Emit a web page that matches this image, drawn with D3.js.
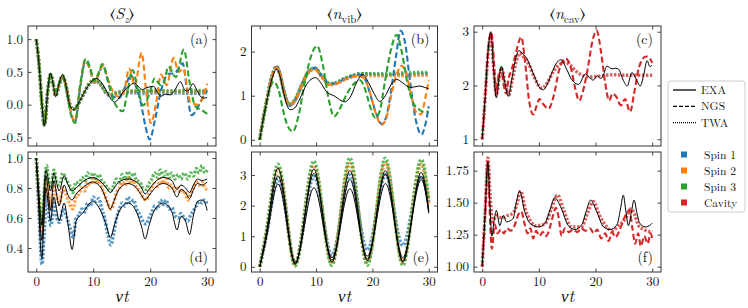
<!DOCTYPE html>
<html lang="en">
<head>
<meta charset="UTF-8">
<title>spin-cavity dynamics</title>
<script src="https://cdn.jsdelivr.net/npm/d3@7"></script>
<style>
    body { margin: 0; background: #fff; }
</style>
</head>
<body>
<svg id="fig" width="748" height="308"></svg>
<script>
// ---- data: [t, value] pairs ----
// (a) <S_z>, first setup
var szExa = [[0,1.0],[0.5,0.6],[1.0,0.0],[1.45,-0.32],[2.0,0.2],[2.5,0.48],[3.0,0.3],[3.4,0.12],[4.0,0.32],[4.6,0.46],[5.2,0.3],[5.8,0.02],[6.5,-0.08],[7.3,0.0],[8.2,0.15],[9.2,0.3],[10.6,0.40],[11.5,0.33],[12.4,0.2],[13.0,0.1],[13.8,0.04],[14.5,0.1],[15.3,0.2],[16.3,0.28],[17.2,0.33],[18.0,0.27],[18.6,0.23],[19.4,0.26],[20.6,0.28],[21.3,0.18],[21.9,0.13],[22.7,0.16],[23.5,0.15],[24.3,0.22],[25.3,0.35],[26.1,0.22],[26.6,0.21],[27.5,0.32],[28.2,0.22],[28.9,0.12],[29.5,0.1],[30,0.11]];
var szNgs1 = [[0,1.0],[0.5,0.6],[1.0,0.0],[1.45,-0.31],[2.0,0.2],[2.5,0.46],[3.0,0.3],[3.4,0.15],[4.0,0.3],[4.6,0.42],[5.3,0.25],[6.0,-0.1],[6.8,-0.26],[7.7,0.25],[8.6,0.66],[9.4,0.55],[10.2,0.33],[10.9,0.45],[11.7,0.6],[12.6,0.35],[13.5,0.12],[14.5,0.1],[15.5,0.25],[16.6,0.45],[17.4,0.3],[18.3,0.05],[19.1,-0.3],[19.9,-0.53],[20.8,-0.25],[21.7,0.14],[22.5,0.38],[23.2,0.47],[24.3,0.48],[25.7,0.63],[26.5,0.2],[27.2,-0.16],[28.0,-0.1],[28.8,0.04],[30,0.22]];
var szNgs2 = [[0,1.0],[0.5,0.6],[1.0,0.0],[1.45,-0.31],[2.0,0.2],[2.5,0.46],[3.0,0.3],[3.4,0.16],[4.0,0.3],[4.6,0.42],[5.3,0.25],[6.0,-0.08],[6.8,-0.25],[7.7,0.28],[8.6,0.68],[9.4,0.55],[10.2,0.34],[10.9,0.46],[11.7,0.6],[12.6,0.38],[13.5,0.2],[14.5,0.12],[15.4,0.2],[16.3,0.55],[17.3,0.3],[18.5,0.79],[19.3,0.2],[20.1,-0.28],[21.0,0.0],[21.9,0.46],[22.9,0.3],[24.1,0.71],[25.0,0.5],[25.8,0.55],[27.0,0.05],[28.3,0.0],[29.3,0.12],[30,0.32]];
var szNgs3 = [[0,1.0],[0.5,0.6],[1.0,0.0],[1.45,-0.31],[2.0,0.2],[2.5,0.46],[3.0,0.3],[3.4,0.2],[4.0,0.32],[4.6,0.42],[5.3,0.22],[6.0,-0.12],[6.8,-0.28],[7.7,0.3],[8.7,0.7],[9.4,0.58],[10.2,0.36],[10.9,0.48],[11.6,0.62],[12.5,0.4],[13.4,0.1],[14.3,-0.05],[15.2,-0.1],[16.0,0.2],[16.9,0.53],[17.9,0.2],[18.8,-0.01],[19.8,0.15],[20.8,0.4],[21.8,0.3],[22.3,0.32],[23.2,0.58],[24.5,0.42],[25.9,0.84],[26.9,0.35],[27.9,-0.02],[29.0,-0.08],[30,-0.14]];
var szTwa1 = [[0,1.0],[0.5,0.6],[1.0,0.0],[1.45,-0.31],[2.0,0.2],[2.5,0.46],[3.0,0.3],[3.4,0.14],[4.0,0.3],[4.6,0.44],[5.2,0.3],[5.8,0.03],[6.5,-0.07],[7.3,0.0],[8.2,0.14],[9.2,0.3],[10.3,0.37],[11.3,0.3],[12.3,0.17],[13.2,0.13],[14.2,0.16],[15.5,0.18],[17,0.18],[19,0.17],[21,0.18],[23,0.17],[25,0.18],[27,0.17],[30,0.18]];
var szTwa2 = [[0,1.0],[0.5,0.6],[1.0,0.0],[1.45,-0.31],[2.0,0.2],[2.5,0.46],[3.0,0.3],[3.4,0.14],[4.0,0.3],[4.6,0.44],[5.2,0.3],[5.8,0.03],[6.5,-0.07],[7.3,0.0],[8.2,0.15],[9.2,0.31],[10.3,0.38],[11.3,0.31],[12.3,0.18],[13.2,0.15],[14.2,0.18],[15.5,0.2],[17,0.2],[19,0.2],[21,0.2],[23,0.2],[25,0.2],[27,0.2],[30,0.2]];
var szTwa3 = [[0,1.0],[0.5,0.6],[1.0,0.0],[1.45,-0.31],[2.0,0.2],[2.5,0.46],[3.0,0.3],[3.4,0.14],[4.0,0.3],[4.6,0.44],[5.2,0.3],[5.8,0.03],[6.5,-0.07],[7.3,0.0],[8.2,0.15],[9.2,0.31],[10.3,0.38],[11.3,0.32],[12.3,0.19],[13.2,0.16],[14.2,0.19],[15.5,0.21],[17,0.21],[19,0.21],[21,0.22],[23,0.21],[25,0.21],[27,0.22],[30,0.21]];

// (b) <n_vib>, first setup
var nvExa = [[0,0],[0.6,0.45],[1.2,0.84],[2.0,1.3],[3.0,1.6],[3.6,1.45],[4.2,1.1],[4.8,0.8],[5.4,0.68],[6.2,0.72],[7.1,0.92],[8.3,1.25],[9.9,1.41],[10.8,1.3],[11.8,1.1],[13.3,0.99],[15.1,0.86],[16.2,1.0],[17.2,1.3],[18.3,1.48],[19.3,1.3],[20.3,1.05],[21.3,0.87],[22.3,1.0],[23.3,1.25],[24.3,1.37],[25.4,1.29],[26.6,1.19],[27.5,1.2],[28.4,1.22],[29.2,1.19],[30,1.16]];
var nvNgs1 = [[0,0],[0.6,0.45],[1.2,0.85],[2.0,1.35],[3.0,1.66],[3.6,1.5],[4.3,1.1],[5.3,0.78],[6.3,0.9],[7.5,1.25],[8.7,1.55],[9.8,1.63],[11.0,1.45],[12.4,1.27],[13.5,1.28],[15.0,1.38],[16.5,1.45],[17.8,1.48],[18.8,1.35],[19.8,0.95],[20.8,0.55],[21.6,0.36],[22.4,0.5],[23.3,1.1],[24.2,1.9],[25.0,2.47],[25.8,2.2],[26.7,1.3],[27.7,0.45],[28.7,0.12],[29.4,0.35],[30,0.76]];
var nvNgs2 = [[0,0],[0.6,0.45],[1.2,0.85],[2.0,1.35],[3.0,1.65],[3.6,1.5],[4.3,1.1],[5.3,0.79],[6.3,0.9],[7.5,1.25],[8.7,1.54],[9.8,1.6],[11.0,1.43],[12.4,1.25],[13.5,1.27],[15.0,1.36],[16.5,1.43],[17.5,1.45],[18.5,1.4],[19.5,1.1],[20.6,0.6],[21.6,0.34],[22.5,0.5],[23.5,1.1],[24.5,1.55],[25.2,1.68],[26.0,1.5],[26.9,1.0],[27.8,0.62],[28.6,0.58],[29.4,0.95],[30,1.35]];
var nvNgs3 = [[0,0],[0.6,0.4],[1.3,0.9],[2.5,1.32],[3.3,1.15],[4.2,0.65],[5.0,0.3],[5.9,0.19],[6.9,0.55],[8.0,1.3],[9.0,1.85],[10.2,2.13],[11.2,1.7],[12.2,0.95],[13.2,0.53],[14.2,0.7],[15.5,1.05],[16.8,1.28],[17.8,1.35],[18.7,1.15],[19.6,0.75],[20.5,0.5],[21.3,0.65],[22.2,1.3],[23.3,2.05],[24.3,2.38],[25.2,2.0],[26.2,1.3],[27.2,0.85],[28.2,0.7],[29.2,0.63],[30,0.65]];
var nvTwa1 = [[0,0],[0.6,0.45],[1.2,0.85],[2.0,1.35],[3.0,1.66],[3.6,1.5],[4.3,1.1],[5.3,0.78],[6.3,0.9],[7.5,1.25],[8.7,1.55],[9.8,1.63],[11.0,1.45],[12.4,1.27],[13.5,1.28],[15.0,1.38],[16.5,1.45],[18.0,1.5],[20,1.48],[22,1.47],[24,1.48],[26,1.48],[28,1.49],[30,1.5]];
var nvTwa2 = [[0,0],[0.6,0.45],[1.2,0.85],[2.0,1.35],[3.0,1.64],[3.6,1.48],[4.3,1.1],[5.3,0.79],[6.3,0.9],[7.5,1.24],[8.7,1.53],[9.8,1.6],[11.0,1.43],[12.4,1.25],[13.5,1.27],[15.0,1.36],[16.5,1.43],[18.0,1.46],[20,1.45],[22,1.45],[24,1.46],[26,1.45],[28,1.46],[30,1.46]];
var nvTwa3 = [[0,0],[0.6,0.45],[1.2,0.85],[2.0,1.35],[3.0,1.65],[3.6,1.49],[4.3,1.1],[5.3,0.8],[6.3,0.92],[7.5,1.26],[8.7,1.55],[9.8,1.62],[11.0,1.45],[12.4,1.28],[13.5,1.3],[15.0,1.39],[16.5,1.46],[18.0,1.5],[20,1.5],[22,1.5],[24,1.51],[26,1.52],[28,1.53],[30,1.52]];

// (c) <n_cav>, first setup
var ncExa = [[0,1.0],[0.5,1.75],[1.0,2.6],[1.5,3.0],[2.0,2.3],[2.5,1.77],[3.0,2.15],[3.4,2.36],[4.0,2.05],[4.6,1.8],[5.2,2.1],[5.8,2.45],[6.5,2.65],[7.2,2.58],[7.8,2.52],[8.5,2.35],[9.3,2.15],[10.0,1.98],[10.8,1.92],[11.5,2.03],[12.2,2.21],[13.0,2.4],[13.9,2.48],[14.9,2.3],[15.8,2.11],[17.0,2.02],[18.2,2.21],[19.0,2.14],[19.6,2.1],[20.3,2.18],[20.9,2.13],[21.4,2.2],[22.0,2.36],[22.9,2.31],[23.5,2.32],[24.1,2.3],[24.8,2.12],[25.6,1.99],[26.4,2.24],[27.1,2.13],[27.9,1.99],[28.5,2.2],[29.1,2.46],[29.6,2.35],[30,2.38]];
var ncNgs = [[0,1.0],[0.5,1.75],[1.0,2.6],[1.6,2.98],[2.1,2.4],[2.4,1.87],[2.9,2.2],[3.3,2.32],[3.8,2.0],[4.2,1.85],[4.7,2.15],[5.2,2.3],[5.7,2.5],[6.9,2.9],[7.5,2.5],[8.3,1.7],[9.0,1.46],[9.6,1.62],[10.1,1.75],[10.8,1.65],[11.7,1.57],[12.6,1.8],[13.6,2.3],[14.7,2.5],[15.6,2.35],[16.4,1.95],[17.1,1.72],[17.8,1.9],[18.6,2.3],[19.4,2.8],[20.2,3.02],[21.0,2.6],[21.7,2.05],[22.4,1.72],[23.0,1.85],[23.6,1.8],[24.5,1.63],[25.2,1.75],[26.1,1.51],[26.8,1.85],[27.7,2.35],[28.9,2.54],[29.6,2.5],[30,2.42]];
var ncTwa = [[0,1.0],[0.5,1.75],[1.0,2.55],[1.5,2.95],[2.0,2.35],[2.5,1.82],[3.0,2.15],[3.5,2.3],[4.0,2.05],[4.7,1.82],[5.3,2.1],[6.0,2.45],[6.6,2.6],[7.4,2.52],[8.2,2.4],[9.2,2.15],[10.5,1.95],[11.5,2.05],[12.5,2.25],[13.5,2.38],[14.6,2.43],[15.5,2.38],[16.5,2.27],[17.5,2.2],[19,2.16],[21,2.18],[23,2.2],[25,2.19],[27,2.19],[30,2.19]];

// (d) <S_z>, second setup
var szExaB1 = [[0,1.0],[0.4,0.7],[0.8,0.38],[1.0,0.33],[1.3,0.55],[1.7,0.8],[2.1,0.7],[2.5,0.58],[3.1,0.74],[3.6,0.65],[4.0,0.58],[4.9,0.7],[5.6,0.55],[6.3,0.39],[7.0,0.58],[8.1,0.63],[9.9,0.71],[11.4,0.64],[12.3,0.55],[13.0,0.47],[13.7,0.55],[14.5,0.64],[16.1,0.7],[17.6,0.64],[18.5,0.54],[19.1,0.46],[19.8,0.55],[20.6,0.64],[22.3,0.7],[23.8,0.64],[24.7,0.52],[25.4,0.61],[26.2,0.58],[26.9,0.49],[27.6,0.62],[28.3,0.71],[29.1,0.72],[29.6,0.7],[30,0.65]];
var szExaB2 = [[0,1.0],[0.4,0.75],[0.8,0.5],[1.0,0.45],[1.3,0.65],[1.7,0.88],[2.1,0.78],[2.5,0.65],[3.1,0.85],[3.6,0.75],[4.0,0.68],[4.9,0.82],[5.6,0.75],[6.3,0.72],[7.0,0.76],[8.1,0.8],[9.9,0.84],[11.4,0.8],[12.3,0.72],[13.0,0.66],[13.7,0.72],[14.5,0.79],[16.1,0.83],[17.6,0.8],[18.5,0.75],[19.1,0.72],[19.8,0.75],[20.6,0.79],[22.3,0.83],[23.8,0.8],[24.7,0.74],[25.4,0.79],[26.2,0.77],[26.9,0.73],[27.6,0.79],[28.3,0.83],[29.1,0.82],[30,0.84]];
var szExaB3 = [[0,1.0],[0.4,0.8],[0.8,0.6],[1.0,0.55],[1.3,0.75],[1.7,0.92],[2.1,0.86],[2.5,0.78],[3.1,0.9],[3.6,0.83],[4.0,0.78],[4.9,0.88],[5.6,0.82],[6.3,0.78],[7.0,0.8],[8.1,0.84],[9.9,0.87],[11.4,0.84],[12.3,0.8],[13.0,0.77],[13.7,0.8],[14.5,0.84],[16.1,0.86],[17.6,0.84],[18.5,0.8],[19.1,0.76],[19.8,0.79],[20.6,0.83],[22.3,0.87],[23.8,0.85],[24.7,0.79],[25.4,0.82],[26.2,0.8],[26.9,0.77],[27.6,0.82],[28.3,0.86],[29.1,0.85],[30,0.86]];
var szTwaB1 = [[0,1.0],[0.5,0.6],[1.0,0.29],[1.4,0.5],[1.8,0.75],[2.2,0.62],[2.6,0.55],[3.1,0.7],[3.6,0.6],[4.1,0.57],[4.7,0.66],[5.2,0.62],[5.8,0.55],[6.5,0.47],[7.0,0.6],[7.5,0.62],[8.0,0.66],[8.5,0.64],[9.0,0.7],[9.5,0.68],[10.0,0.74],[10.5,0.71],[11.0,0.73],[11.5,0.66],[12.0,0.6],[12.5,0.5],[13.1,0.42],[13.6,0.5],[14.1,0.6],[14.6,0.66],[15.1,0.7],[15.6,0.68],[16.1,0.74],[16.6,0.7],[17.1,0.72],[17.6,0.66],[18.2,0.62],[18.7,0.58],[19.3,0.56],[19.8,0.6],[20.3,0.64],[20.8,0.68],[21.3,0.66],[21.8,0.72],[22.3,0.69],[22.8,0.72],[23.3,0.66],[23.8,0.67],[24.3,0.62],[24.9,0.6],[25.4,0.63],[26.0,0.6],[26.6,0.58],[27.1,0.62],[27.6,0.65],[28.1,0.68],[28.6,0.71],[29.1,0.7],[29.6,0.72],[30,0.69]];
var szTwaB2 = [[0,1.0],[0.5,0.7],[1.0,0.5],[1.4,0.68],[1.8,0.85],[2.2,0.75],[2.6,0.68],[3.1,0.82],[3.6,0.74],[4.1,0.7],[4.7,0.8],[5.2,0.76],[5.8,0.7],[6.4,0.66],[7.0,0.74],[7.5,0.76],[8.0,0.8],[8.5,0.78],[9.0,0.84],[9.5,0.82],[10.0,0.86],[10.5,0.83],[11.0,0.85],[11.5,0.8],[12.0,0.76],[12.5,0.7],[13.1,0.66],[13.6,0.7],[14.1,0.77],[14.6,0.8],[15.1,0.84],[15.6,0.82],[16.1,0.87],[16.6,0.83],[17.1,0.85],[17.6,0.8],[18.2,0.78],[18.7,0.74],[19.3,0.72],[19.8,0.76],[20.3,0.8],[20.8,0.83],[21.3,0.81],[21.8,0.86],[22.3,0.83],[22.8,0.86],[23.3,0.8],[23.8,0.82],[24.3,0.78],[24.9,0.8],[25.4,0.77],[26.0,0.78],[26.6,0.72],[27.1,0.76],[27.6,0.8],[28.1,0.84],[28.6,0.82],[29.1,0.84],[29.6,0.8],[30,0.79]];
var szTwaB3 = [[0,1.0],[0.5,0.75],[1.0,0.55],[1.4,0.78],[1.8,0.95],[2.2,0.85],[2.6,0.8],[3.1,0.92],[3.6,0.84],[4.1,0.82],[4.7,0.9],[5.2,0.86],[5.8,0.82],[6.4,0.77],[7.0,0.84],[7.5,0.82],[8.0,0.87],[8.5,0.85],[9.0,0.9],[9.5,0.87],[10.0,0.9],[10.5,0.86],[11.0,0.89],[11.5,0.85],[12.0,0.83],[12.5,0.8],[13.1,0.78],[13.6,0.82],[14.1,0.86],[14.6,0.84],[15.1,0.89],[15.6,0.86],[16.1,0.91],[16.6,0.87],[17.1,0.9],[17.6,0.85],[18.2,0.84],[18.7,0.8],[19.3,0.79],[19.8,0.83],[20.3,0.86],[20.8,0.9],[21.3,0.87],[21.8,0.92],[22.3,0.88],[22.8,0.91],[23.3,0.87],[23.8,0.9],[24.3,0.86],[24.9,0.89],[25.4,0.86],[26.0,0.9],[26.6,0.86],[27.1,0.9],[27.6,0.88],[28.1,0.93],[28.6,0.9],[29.1,0.95],[29.6,0.9],[30,0.92]];

// (e) <n_vib>, second setup
var nvExaB1 = [[0,0],[1.6,1.35],[3.2,2.7],[4.8,1.45],[6.3,0.15],[7.95,1.35],[9.6,2.58],[11.2,1.45],[12.8,0.3],[14.4,1.4],[16,2.55],[17.55,1.45],[19.1,0.35],[20.7,1.5],[22.3,2.72],[23.85,1.55],[25.4,0.3],[27,1.55],[28.6,2.85],[30,1.75]];
var nvExaB2 = [[0,0],[1.6,1.48],[3.2,2.97],[4.8,1.55],[6.3,0.1],[7.95,1.55],[9.6,3.05],[11.2,1.65],[12.8,0.22],[14.4,1.5],[16,2.85],[17.55,1.55],[19.1,0.25],[20.7,1.62],[22.3,3.03],[23.85,1.62],[25.4,0.2],[27,1.6],[28.6,2.95],[30,1.8]];
var nvExaB3 = [[0,0],[1.6,1.6],[3.2,3.22],[4.8,1.65],[6.3,0.08],[7.95,1.62],[9.6,3.19],[11.2,1.68],[12.8,0.15],[14.4,1.62],[16,3.14],[17.55,1.67],[19.1,0.2],[20.7,1.65],[22.3,3.14],[23.85,1.66],[25.4,0.15],[27,1.6],[28.6,3.08],[30,1.85]];
var nvTwaB1 = [[0,0],[1.6,1.45],[3.2,2.87],[4.8,1.55],[6.3,0.15],[7.95,1.55],[9.6,2.95],[11.2,1.7],[12.8,0.38],[14.4,1.65],[16,3.0],[17.55,1.8],[19.1,0.55],[20.7,1.75],[22.3,3.0],[23.85,1.85],[25.4,0.7],[27,1.85],[28.6,2.95],[30,2.1]];
var nvTwaB2 = [[0,0],[1.6,1.6],[3.2,3.2],[4.8,1.65],[6.3,0.08],[7.95,1.7],[9.6,3.3],[11.2,1.72],[12.8,0.12],[14.4,1.75],[16,3.38],[17.55,1.78],[19.1,0.15],[20.7,1.78],[22.3,3.4],[23.85,1.78],[25.4,0.15],[27,1.75],[28.6,3.35],[30,2.0]];
var nvTwaB3 = [[0,0],[1.6,1.68],[3.2,3.35],[4.8,1.7],[6.3,0.03],[7.95,1.74],[9.6,3.45],[11.2,1.75],[12.8,0.05],[14.4,1.8],[16,3.55],[17.55,1.8],[19.1,0.05],[20.7,1.8],[22.3,3.55],[23.85,1.78],[25.4,0.05],[27,1.78],[28.6,3.5],[30,2.2]];

// (f) <n_cav>, second setup
var ncExaB = [[0,1.0],[0.5,1.4],[1.0,1.82],[1.35,1.5],[1.7,1.24],[2.1,1.36],[2.5,1.44],[3.1,1.32],[3.7,1.4],[4.3,1.35],[5.0,1.36],[5.5,1.38],[6.0,1.5],[6.6,1.59],[7.5,1.43],[8.4,1.34],[9.9,1.31],[11.1,1.34],[12.0,1.45],[12.8,1.54],[13.9,1.46],[15.2,1.32],[16.4,1.29],[17.6,1.33],[18.4,1.44],[19.1,1.52],[20.2,1.43],[21.4,1.31],[22.6,1.29],[23.8,1.33],[24.4,1.45],[24.9,1.56],[25.3,1.45],[25.8,1.32],[26.3,1.42],[26.8,1.52],[27.3,1.42],[27.8,1.34],[28.8,1.31],[29.5,1.32],[30,1.34]];
var ncNgsB = [[0,1.0],[0.5,1.4],[1.0,1.82],[1.3,1.45],[1.7,1.14],[2.2,1.33],[2.7,1.26],[3.3,1.29],[3.8,1.26],[4.4,1.3],[5.0,1.28],[5.7,1.32],[6.4,1.41],[6.9,1.43],[7.5,1.33],[8.0,1.26],[8.5,1.3],[9.0,1.22],[9.5,1.28],[10.1,1.24],[10.7,1.27],[11.3,1.24],[11.9,1.3],[12.5,1.4],[13.0,1.46],[13.5,1.38],[14.0,1.24],[14.6,1.3],[15.3,1.27],[16.0,1.29],[16.8,1.27],[17.5,1.3],[18.2,1.28],[19.0,1.3],[19.7,1.26],[20.3,1.29],[21.0,1.22],[21.7,1.26],[22.3,1.2],[22.9,1.27],[23.5,1.23],[24.2,1.28],[24.8,1.35],[25.5,1.42],[26.0,1.44],[26.5,1.3],[27.0,1.18],[27.5,1.26],[28.0,1.16],[28.6,1.24],[29.2,1.18],[29.7,1.26],[30,1.22]];
var ncTwaB = [[0,1.0],[0.5,1.42],[1.0,1.85],[1.4,1.55],[1.8,1.35],[2.5,1.4],[3.5,1.38],[4.5,1.4],[5.5,1.42],[6.2,1.5],[6.8,1.59],[7.6,1.45],[8.5,1.36],[9.3,1.32],[11.0,1.33],[12.2,1.45],[13.3,1.56],[14.3,1.45],[15.8,1.31],[17.5,1.31],[18.6,1.42],[19.6,1.51],[20.7,1.4],[22.0,1.31],[22.9,1.28],[24.0,1.32],[24.8,1.35],[25.6,1.4],[26.2,1.45],[26.8,1.42],[27.6,1.32],[28.5,1.29],[30,1.27]];

// ticks and legend labels
var xTicks = [0, 10, 20, 30];
var szTicksTop = [-0.5, 0, 0.5, 1.0];
var szTicksBottom = [0.4, 0.6, 0.8, 1.0];
var nvTicksTop = [0, 1, 2];
var nvTicksBottom = [0, 1, 2, 3];
var ncTicksTop = [1, 2, 3];
var ncTicksBottom = [1.0, 1.25, 1.5, 1.75];
var methodNames = ['EXA', 'NGS', 'TWA'];
var speciesNames = ['Spin 1', 'Spin 2', 'Spin 3', 'Cavity'];

// ---- drawing ----
var FONT = "'Latin Modern Roman', 'Liberation Serif', 'FreeSerif', serif";
var svg = d3.select('#fig').style('font-family', FONT);
var tDomain = [-1.45, 31.55];
var blue = '#1f77b4', orange = '#ff7f0e', green = '#2ca02c', red = '#d62728';
var speciesColors = [blue, orange, green, red];

var styles = {
    exa: {width: 1, dash: null, opacity: 1},
    ngs: {width: 2.1, dash: '6,3', opacity: 1},
    twa: {width: 3.4, dash: '2.4,1.6', opacity: 0.75}
};

var fmt1 = function (d) { return d.toFixed(1); };
var fmt2 = function (d) { return d.toFixed(2); };
var fmt0 = function (d) { return d.toFixed(0); };

function addText(x, y, size) {
    return svg.append('text')
        .attr('x', x).attr('y', y)
        .attr('font-size', size)
        .style('font-family', FONT)
        .attr('fill', '#111');
}

function drawPanel(p) {
    var x = d3.scaleLinear().domain(tDomain).range([p.left, p.right]);
    var y = d3.scaleLinear().domain(p.yDomain).range([p.bottom, p.top]);

    svg.append('clipPath').attr('id', 'clip-' + p.tag)
        .append('rect')
        .attr('x', p.left).attr('y', p.top)
        .attr('width', p.right - p.left).attr('height', p.bottom - p.top);

    var line = d3.line()
        .x(function (d) { return x(d[0]); })
        .y(function (d) { return y(d[1]); })
        .curve(p.curve || d3.curveMonotoneX);

    var lines = svg.append('g').attr('clip-path', 'url(#clip-' + p.tag + ')');
    p.series.forEach(function (s) {
        var st = styles[s.kind];
        lines.append('path')
            .datum(s.data)
            .attr('d', line)
            .attr('fill', 'none')
            .attr('stroke', s.color)
            .attr('stroke-width', st.width)
            .attr('stroke-dasharray', st.dash)
            .attr('stroke-opacity', st.opacity);
    });

    // inward ticks on all four sides
    var axes = [
        [d3.axisLeft(y).tickValues(p.yTicks).tickFormat(p.yFormat), 'translate(' + p.left + ',0)'],
        [d3.axisRight(y).tickValues(p.yTicks).tickFormat(''), 'translate(' + p.right + ',0)'],
        [d3.axisBottom(x).tickValues(xTicks).tickFormat(p.xLabels ? fmt0 : ''), 'translate(0,' + p.bottom + ')'],
        [d3.axisTop(x).tickValues(xTicks).tickFormat(''), 'translate(0,' + p.top + ')']
    ];
    axes.forEach(function (a) {
        var g = svg.append('g')
            .attr('transform', a[1])
            .call(a[0].tickSize(-3.5).tickSizeOuter(0).tickPadding(5));
        g.attr('font-size', 13).style('font-family', FONT);
        g.select('.domain').remove();
        g.selectAll('.tick line').attr('stroke', '#333').attr('stroke-width', 0.9);
        g.selectAll('.tick text').attr('fill', '#111').style('font-family', FONT);
    });

    svg.append('rect')
        .attr('x', p.left).attr('y', p.top)
        .attr('width', p.right - p.left).attr('height', p.bottom - p.top)
        .attr('fill', 'none').attr('stroke', '#333').attr('stroke-width', 1);

    addText(p.right - 8, p.tagBottom ? p.bottom - 10 : p.top + 18, 14)
        .attr('text-anchor', 'end')
        .text('(' + p.tag + ')');

    if (p.title) {
        var t = addText((p.left + p.right) / 2, 19, 16).attr('text-anchor', 'middle');
        p.title.forEach(function (part) {
            var ts = t.append('tspan').text(part.s);
            if (part.italic) ts.attr('font-style', 'italic');
            if (part.sub) ts.attr('font-size', 11).attr('dy', 3.5);
            if (part.up) ts.attr('dy', -3.5);
        });
    }

    if (p.xLabels) {
        addText((p.left + p.right) / 2, 302, 17)
            .attr('text-anchor', 'middle')
            .attr('font-style', 'italic')
            .text('\u03bdt');
    }
}

var cols = [[28, 216], [251.5, 437.5], [474, 661]];
var rows = [[26, 146], [152, 272]];

var panels = [
    {tag: 'a', col: 0, row: 0, yDomain: [-0.63, 1.2], yTicks: szTicksTop, yFormat: fmt1,
        title: [{s: '\u27e8'}, {s: 'S', italic: true}, {s: 'z', italic: true, sub: true}, {s: '\u27e9', up: true}],
        series: [
            {data: szTwa1, color: blue, kind: 'twa'}, {data: szTwa2, color: orange, kind: 'twa'}, {data: szTwa3, color: green, kind: 'twa'},
            {data: szNgs1, color: blue, kind: 'ngs'}, {data: szNgs2, color: orange, kind: 'ngs'}, {data: szNgs3, color: green, kind: 'ngs'},
            {data: szExa, color: '#000', kind: 'exa'}]},
    {tag: 'b', col: 1, row: 0, yDomain: [-0.14, 2.58], yTicks: nvTicksTop, yFormat: fmt0,
        title: [{s: '\u27e8'}, {s: 'n', italic: true}, {s: 'vib', sub: true}, {s: '\u27e9', up: true}],
        series: [
            {data: nvTwa1, color: blue, kind: 'twa'}, {data: nvTwa2, color: orange, kind: 'twa'}, {data: nvTwa3, color: green, kind: 'twa'},
            {data: nvNgs1, color: blue, kind: 'ngs'}, {data: nvNgs2, color: orange, kind: 'ngs'}, {data: nvNgs3, color: green, kind: 'ngs'},
            {data: nvExa, color: '#000', kind: 'exa'}]},
    {tag: 'c', col: 2, row: 0, yDomain: [0.875, 3.106], yTicks: ncTicksTop, yFormat: fmt0,
        title: [{s: '\u27e8'}, {s: 'n', italic: true}, {s: 'cav', sub: true}, {s: '\u27e9', up: true}],
        series: [
            {data: ncTwa, color: red, kind: 'twa'}, {data: ncNgs, color: red, kind: 'ngs'},
            {data: ncExa, color: '#000', kind: 'exa'}]},
    {tag: 'd', col: 0, row: 1, yDomain: [0.24, 1.04], yTicks: szTicksBottom, yFormat: fmt1, xLabels: true, tagBottom: true,
        series: [
            {data: szTwaB1, color: blue, kind: 'twa'}, {data: szTwaB2, color: orange, kind: 'twa'}, {data: szTwaB3, color: green, kind: 'twa'},
            {data: szExaB1, color: '#000', kind: 'exa'}, {data: szExaB2, color: '#000', kind: 'exa'}, {data: szExaB3, color: '#000', kind: 'exa'}]},
    {tag: 'e', col: 1, row: 1, yDomain: [-0.17, 3.75], yTicks: nvTicksBottom, yFormat: fmt0, xLabels: true, tagBottom: true,
        curve: d3.curveNatural,
        series: [
            {data: nvTwaB1, color: blue, kind: 'twa'}, {data: nvTwaB2, color: orange, kind: 'twa'}, {data: nvTwaB3, color: green, kind: 'twa'},
            {data: nvExaB1, color: '#000', kind: 'exa'}, {data: nvExaB2, color: '#000', kind: 'exa'}, {data: nvExaB3, color: '#000', kind: 'exa'}]},
    {tag: 'f', col: 2, row: 1, yDomain: [0.958, 1.896], yTicks: ncTicksBottom, yFormat: fmt2, xLabels: true, tagBottom: true,
        series: [
            {data: ncTwaB, color: red, kind: 'twa'}, {data: ncNgsB, color: red, kind: 'ngs'},
            {data: ncExaB, color: '#000', kind: 'exa'}]}
];

panels.forEach(function (p) {
    p.left = cols[p.col][0];
    p.right = cols[p.col][1];
    p.top = rows[p.row][0];
    p.bottom = rows[p.row][1];
    drawPanel(p);
});

// ---- legend ----
svg.append('rect')
    .attr('x', 668).attr('y', 81).attr('width', 77).attr('height', 131).attr('rx', 3)
    .attr('fill', '#fff').attr('stroke', '#ccc').attr('stroke-width', 1);

var legendDash = [null, '4,2', '1,1'];
methodNames.forEach(function (name, i) {
    var yy = 90 + i * 16.3;
    svg.append('line')
        .attr('x1', 673).attr('x2', 696).attr('y1', yy).attr('y2', yy)
        .attr('stroke', '#000').attr('stroke-width', 1.3)
        .attr('stroke-dasharray', legendDash[i]);
    addText(701, yy + 4, 11.5).text(name);
});

speciesNames.forEach(function (name, i) {
    var yy = 154.5 + i * 16;
    svg.append('rect')
        .attr('x', 681).attr('y', yy - 3).attr('width', 6).attr('height', 6)
        .attr('fill', speciesColors[i]);
    addText(704, yy + 4, 11.5).text(name);
});
</script>
</body>
</html>
